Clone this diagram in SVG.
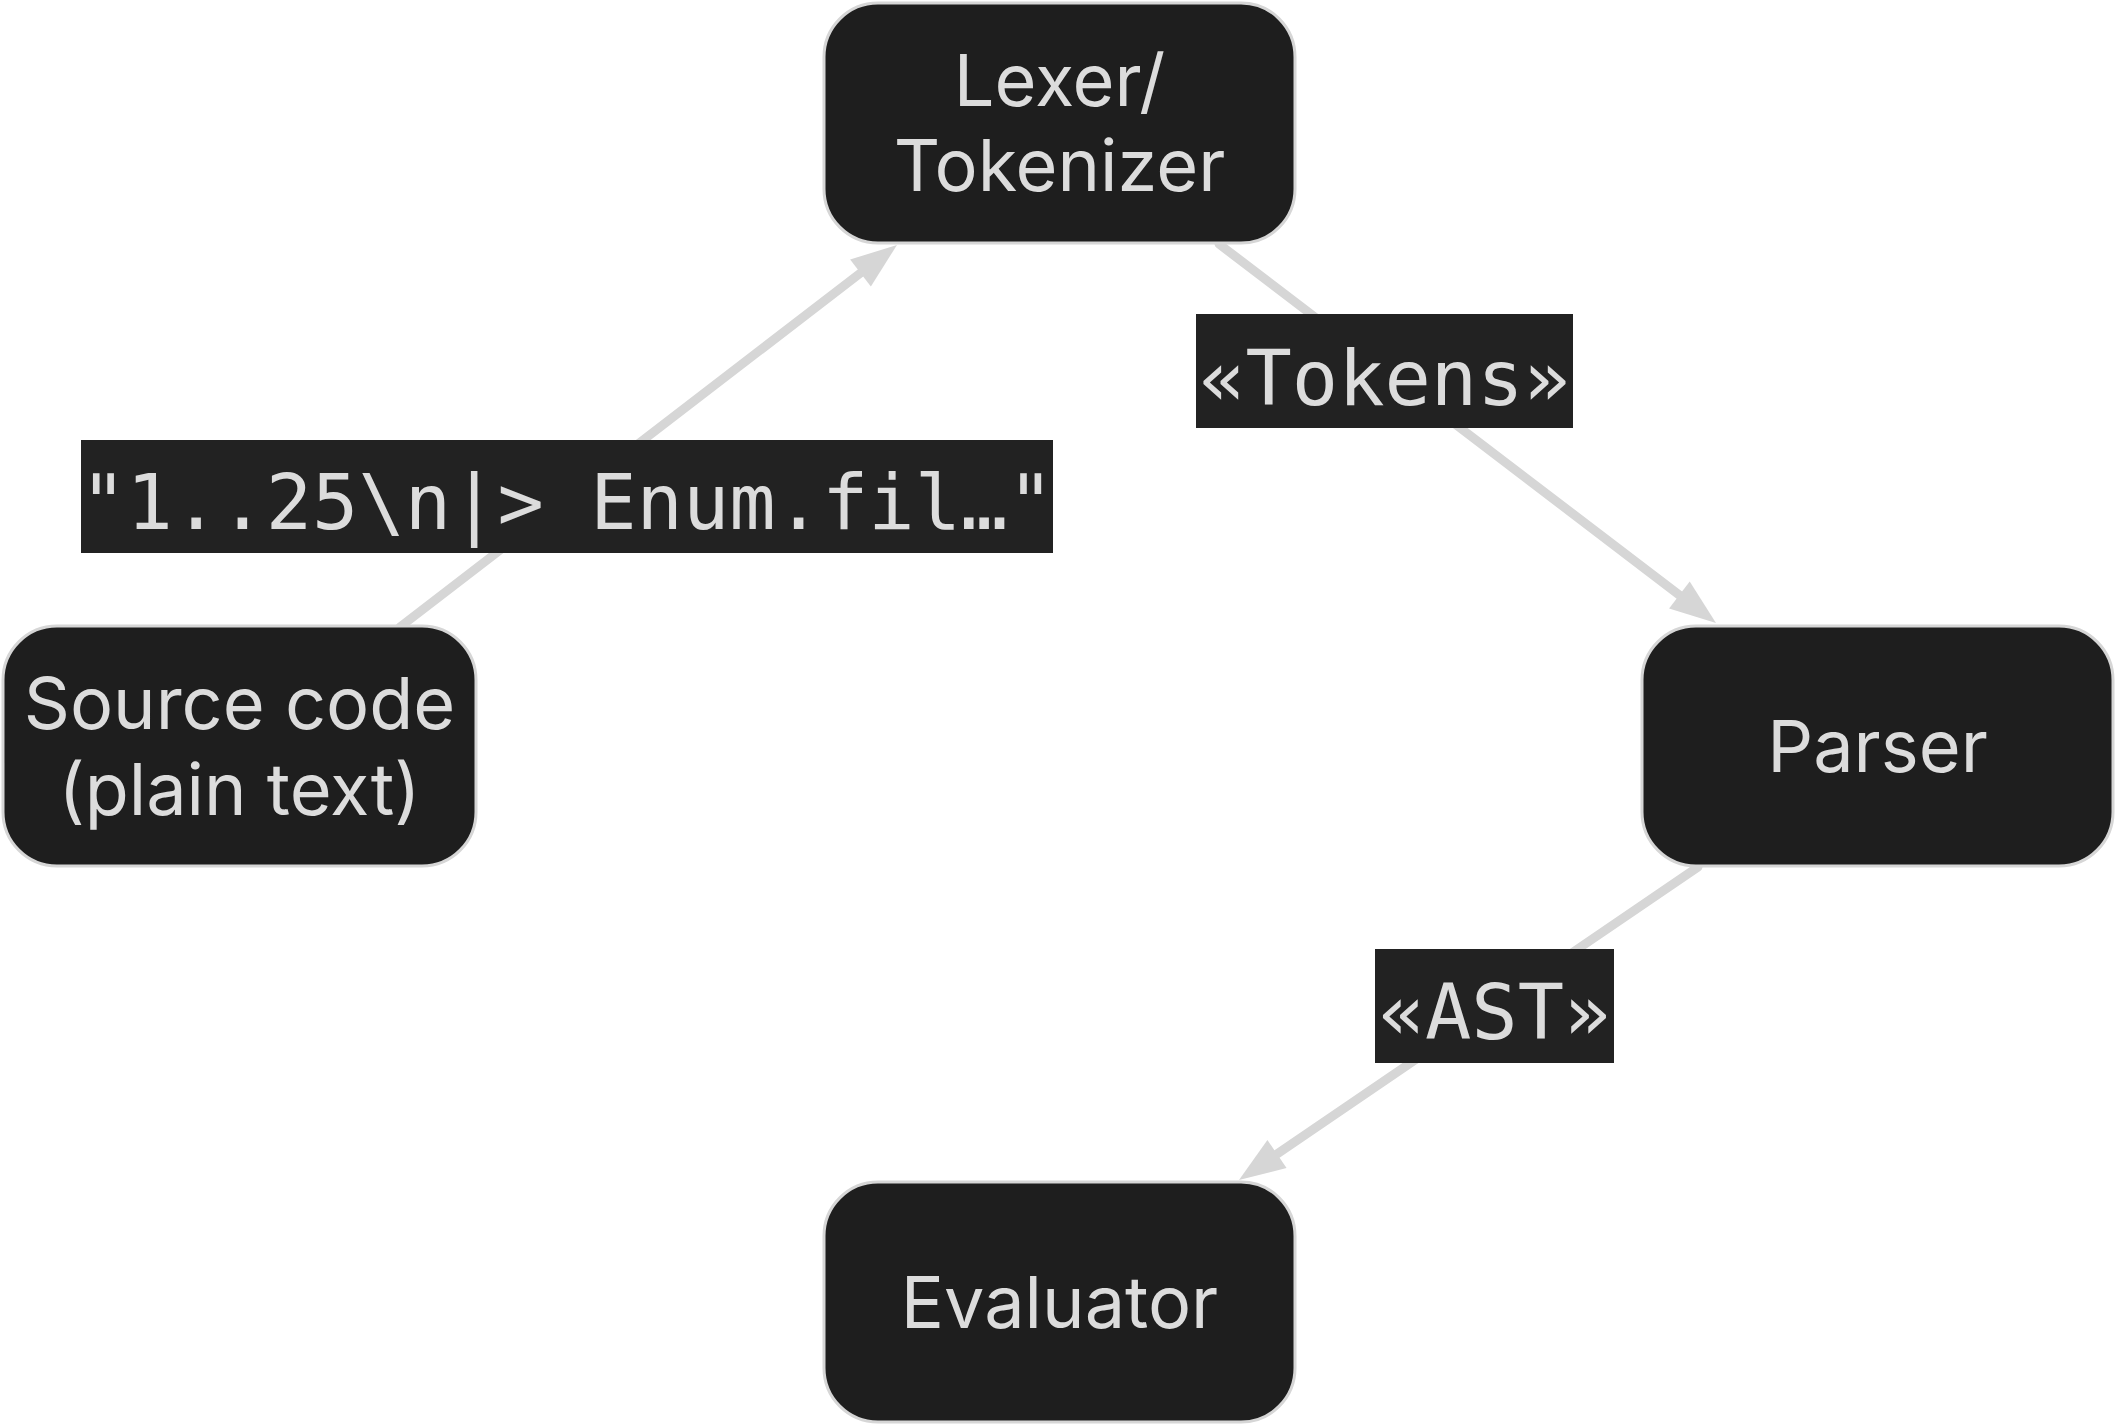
<svg xmlns="http://www.w3.org/2000/svg" width="2116" height="1425" viewBox="0 0 2116 1425">
<style>
.node rect{fill:#1e1e1e;stroke:#d6d6d6;stroke-width:3}
.node text{font-family:Inter,"Noto Sans","Liberation Sans",sans-serif;font-size:72px;fill:#dcdcdc;text-anchor:middle}
.edge{stroke:#d6d6d6;stroke-width:9;fill:none;stroke-linecap:round}
.lbl rect{fill:#222222}
.lbl text{font-family:"DejaVu Sans Mono","Liberation Mono",monospace;font-size:77px;fill:#dcdcdc;text-anchor:middle}
</style>
<defs>
<marker id="arr" markerUnits="userSpaceOnUse" markerWidth="48" markerHeight="36" refX="0" refY="17" orient="auto" overflow="visible">
<path d="M0,0 L46,17 L0,34 z" fill="#d6d6d6"/>
</marker>
</defs>
<rect width="2116" height="1425" fill="#ffffff"/>
<g id="connectors">
<line class="edge" x1="400" y1="627" x2="860.5" y2="273" marker-end="url(#arr)"/>
<line class="edge" x1="1219" y1="244" x2="1679.4" y2="595.1" marker-end="url(#arr)"/>
<line class="edge" x1="1698" y1="867" x2="1277" y2="1154" marker-end="url(#arr)"/>
<g class="lbl">
<rect x="81" y="440" width="972" height="113"/>
<text x="567" y="529">"1..25\n|&gt; Enum.fil…"</text>
</g>
<g class="lbl">
<rect x="1196" y="314" width="377" height="114"/>
<text x="1384.5" y="405">«Tokens»</text>
</g>
<g class="lbl">
<rect x="1375" y="949" width="239" height="114"/>
<text x="1494.5" y="1039">«AST»</text>
</g>
</g>
<g id="lexer" class="node">
<rect x="824" y="3" width="471" height="240" rx="54" ry="54"/>
<text x="1059.5" y="106">Lexer/</text>
<text x="1059.5" y="191">Tokenizer</text>
</g>
<g id="source" class="node">
<rect x="3" y="626" width="473" height="240" rx="54" ry="54"/>
<text x="239.5" y="729">Source code</text>
<text x="239.5" y="815">(plain text)</text>
</g>
<g id="parser" class="node">
<rect x="1642" y="626" width="471" height="240" rx="54" ry="54"/>
<text x="1877.5" y="772">Parser</text>
</g>
<g id="evaluator" class="node">
<rect x="824" y="1182" width="471" height="240" rx="54" ry="54"/>
<text x="1059.5" y="1328">Evaluator</text>
</g>
</svg>
